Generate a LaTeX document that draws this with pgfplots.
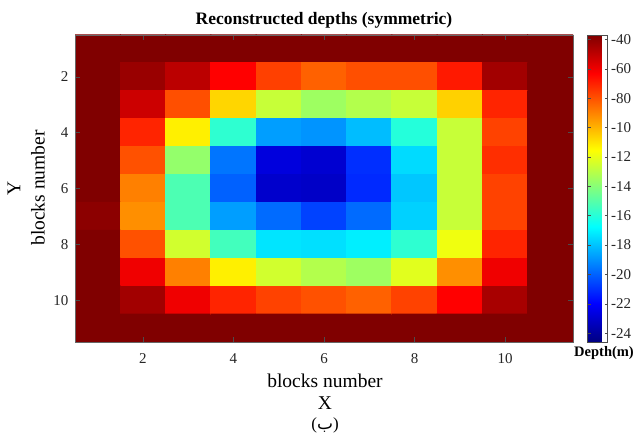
\documentclass[border=0pt]{standalone}
\usepackage{pgfplots}
\usepackage{pgfplotstable}
\pgfplotsset{compat=1.18}
\usepackage{fontspec}
\setmainfont{Liberation Serif}
\newfontfamily\arabicfont[Script=Arabic]{DejaVu Sans}
\TeXXeTstate=1
\pgfplotstableread{
x y z
1 1 -37
2 1 -37
3 1 -37
4 1 -37
5 1 -37
6 1 -37
7 1 -37
8 1 -37
9 1 -37
10 1 -37
11 1 -37
1 2 -37
2 2 -42.2
3 2 -49.1
4 2 -63.1
5 2 -76.2
6 2 -83
7 2 -79.3
8 2 -79.3
9 2 -68.3
10 2 -43.9
11 2 -37
1 3 -37
2 3 -52.7
3 3 -79.3
4 3 -107
5 3 -126.9
6 3 -135.2
7 3 -131
8 3 -126.9
9 3 -106
10 3 -70.4
11 3 -37
1 4 -37
2 4 -70.4
3 4 -112.2
4 4 -158.2
5 4 -187.5
6 4 -189.6
7 4 -181.2
8 4 -160.3
9 4 -126.9
10 4 -76.7
11 4 -37
1 5 -37
2 5 -79.8
3 5 -137.3
4 5 -195.8
5 5 -226.8
6 5 -229.3
7 5 -210.5
8 5 -174.9
9 5 -126.9
10 5 -72.5
11 5 -37
1 6 -37
2 6 -89.3
3 6 -152
4 6 -200
5 6 -230.3
6 6 -231.4
7 6 -211.5
8 6 -179.1
9 6 -126.9
10 6 -76.7
11 6 -37
1 7 -39.5
2 7 -92.4
3 7 -152
4 7 -187.5
5 7 -197.9
6 7 -206.3
7 7 -197.9
8 7 -177
9 7 -126.9
10 7 -76.7
11 7 -37
1 8 -37
2 8 -79.8
3 8 -124.8
4 8 -154
5 8 -172.9
6 8 -173.9
7 8 -170.8
8 8 -158.2
9 8 -118.5
10 8 -70.4
11 8 -37
1 9 -37
2 9 -60
3 9 -89.3
4 9 -112.2
5 9 -124.8
6 9 -131
7 9 -135.2
8 9 -121.6
9 9 -92.4
10 9 -60
11 9 -37
1 10 -37
2 10 -43.9
3 10 -60
4 10 -70.4
5 10 -76.7
6 10 -79.8
7 10 -83
8 10 -76.7
9 10 -63.1
10 10 -45.3
11 10 -37
1 11 -37
2 11 -37
3 11 -37
4 11 -37
5 11 -37
6 11 -37
7 11 -37
8 11 -37
9 11 -37
10 11 -37
11 11 -37
}\depthdata
\begin{document}
\begin{tikzpicture}
\begin{axis}[
  name=main,
  at={(0,0)}, anchor=south west,
  scale only axis, width=498pt, height=307pt,
  xmin=0.5, xmax=11.5, ymin=0.5, ymax=11.5, y dir=reverse,
  xtick={2,4,6,8,10}, ytick={2,4,6,8,10},
  tick align=inside, major tick length=5pt,
  every tick/.style={color=black!70, line width=0.5pt},
  axis line style={color=black!60},
  axis on top,
  clip=true,
  colormap/jet,
  point meta min=-246, point meta max=-37,
  ticklabel style={font=\fontsize{15}{17}\selectfont, color=black!85},
  xticklabel style={yshift=-8pt},
  yticklabel style={xshift=-3pt},
  /pgf/number format/assume math mode=true,
  colorbar,
  colorbar style={
    at={(main.north east)}, anchor=north west, xshift=6pt,
    scale only axis, width=20pt, height=307pt,
    ytick={-240,-220,-200,-180,-160,-140,-120,-100,-80,-60,-40},
    yticklabels={-24,-22,-20,-18,-16,-14,-12,-10,-80,-60,-40},
    yticklabel style={font=\fontsize{15}{17}\selectfont, color=black!85, xshift=0pt},
    tick align=inside, major tick length=3pt,
    axis line style={color=black!70},
  },
]
\addplot[matrix plot, faceted color=mapped color, line width=1pt, mesh/cols=11, point meta=explicit] table[x=x, y=y, meta=z] {\depthdata};
\end{axis}
\node[anchor=base, font=\fontsize{17.5}{20}\selectfont\bfseries] at (249pt,317pt) {Reconstructed depths (symmetric)};
\node[font=\fontsize{19.5}{22}\selectfont] at (250pt,-39pt) {blocks number};
\node[font=\fontsize{19.5}{22}\selectfont] at (250pt,-61pt) {X};
\node[font=\fontsize{17}{19}\selectfont] at (250pt,-83pt) {({\arabicfont\beginR ب\endR})};
\node[rotate=90, font=\fontsize{19.5}{22}\selectfont] at (-61pt,154pt) {Y};
\node[rotate=90, font=\fontsize{19.5}{22}\selectfont] at (-37pt,154pt) {blocks number};
\node[font=\fontsize{14.5}{16}\selectfont\bfseries] at (529pt,-11pt) {Depth(m)};
\pgfresetboundingbox
\path[use as bounding box] (-75pt,-96pt) rectangle (559pt,342pt);
\end{tikzpicture}
\end{document}
